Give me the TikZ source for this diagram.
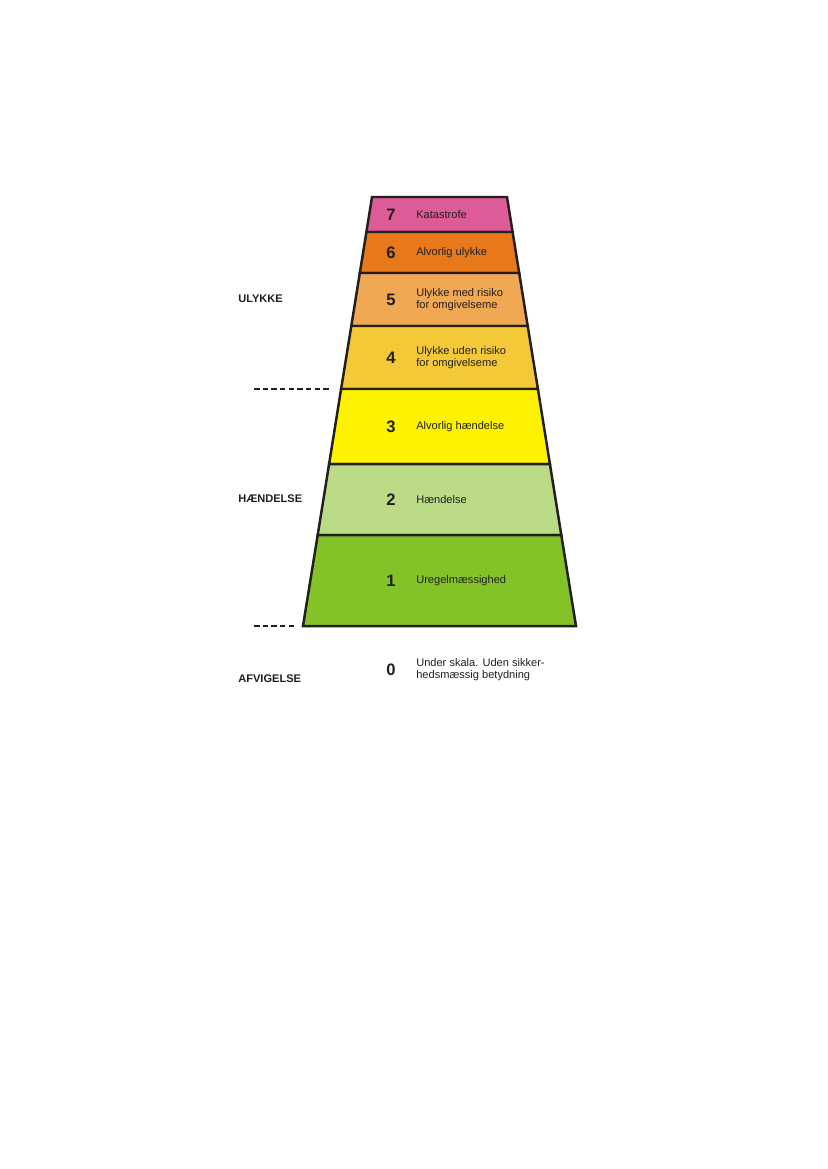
\documentclass[tikz,border=0pt]{standalone}
\usepackage{fontspec}
\setmainfont{Liberation Sans}
\usetikzlibrary{positioning}

\definecolor{level7}{RGB}{221,92,151}
\definecolor{level6}{RGB}{232,121,26}
\definecolor{level5}{RGB}{240,168,82}
\definecolor{level4}{RGB}{243,201,56}
\definecolor{level3}{RGB}{255,242,0}
\definecolor{level2}{RGB}{187,219,135}
\definecolor{level1}{RGB}{132,195,39}
\definecolor{textdark}{RGB}{35,31,32}

\begin{document}
\begin{tikzpicture}[x=0.025393cm, y=-0.025393cm]


\tikzstyle{band_style} = [draw=textdark, line width=1.8]

\tikzstyle{num_style} = [inner sep=0pt, text=textdark, font=\fontsize{12}{12}\selectfont\bfseries]

\tikzstyle{label_style} = [inner sep=0pt, anchor=west, align=left, text=textdark, font=\fontsize{8}{8.6}\selectfont]

\tikzstyle{side_style} = [inner sep=0pt, anchor=west, text=textdark, font=\fontsize{8}{8}\selectfont\bfseries]

\tikzstyle{dash_style} = [draw=textdark, line width=1.9, dash pattern=on 4pt off 2.25pt]


\useasboundingbox (0,0) rectangle (827,1169);

\filldraw[band_style, fill=level7] (372.0,197) -- (507.0,197) -- (512.6,232) -- (366.4,232) -- cycle;
\filldraw[band_style, fill=level6] (366.4,232) -- (512.6,232) -- (519.2,273) -- (359.8,273) -- cycle;
\filldraw[band_style, fill=level5] (359.8,273) -- (519.2,273) -- (527.7,326) -- (351.3,326) -- cycle;
\filldraw[band_style, fill=level4] (351.3,326) -- (527.7,326) -- (537.9,389) -- (341.1,389) -- cycle;
\filldraw[band_style, fill=level3] (341.1,389) -- (537.9,389) -- (549.9,464) -- (329.1,464) -- cycle;
\filldraw[band_style, fill=level2] (329.1,464) -- (549.9,464) -- (561.3,535) -- (317.7,535) -- cycle;
\filldraw[band_style, fill=level1] (317.7,535) -- (561.3,535) -- (576.0,626) -- (303.0,626) -- cycle;


\node[num_style] (n7) at (391, 214.5) {7};
\node[num_style] (n6) at (391, 252.5) {6};
\node[num_style] (n5) at (391, 299.5) {5};
\node[num_style] (n4) at (391, 357.5) {4};
\node[num_style] (n3) at (391, 426.5) {3};
\node[num_style] (n2) at (391, 499.5) {2};
\node[num_style] (n1) at (391, 580.5) {1};
\node[num_style] (n0) at (391, 670.0) {0};

\node[label_style] (l7) at (416, 214.5) {Katastrofe};
\node[label_style] (l6) at (416, 252.5) {Alvorlig ulykke};
\node[label_style] (l5) at (416, 299.5) {Ulykke med risiko\\for omgivelseme};
\node[label_style] (l4) at (416, 357.5) {Ulykke uden risiko\\for omgivelseme};
\node[label_style] (l3) at (416, 426.5) {Alvorlig hændelse};
\node[label_style] (l2) at (416, 499.5) {Hændelse};
\node[label_style] (l1) at (416, 580.5) {Uregelmæssighed};
\node[label_style] (l0) at (416, 670.0) {Under skala. Uden sikker-\\hedsmæssig betydning};

\node[side_style] (s1) at (238, 298.5) {ULYKKE};
\node[side_style] (s2) at (238, 499.0) {HÆNDELSE};
\node[side_style] (s3) at (238, 679.0) {AFVIGELSE};


\coordinate (d1a) at (254, 389);
\coordinate (d1b) at (328.5, 389);
\coordinate (d2a) at (254, 626);
\coordinate (d2b) at (294, 626);

\draw[dash_style]  (d1a) -- (d1b);
\draw[dash_style]  (d2a) -- (d2b);


\end{tikzpicture}
\end{document}
